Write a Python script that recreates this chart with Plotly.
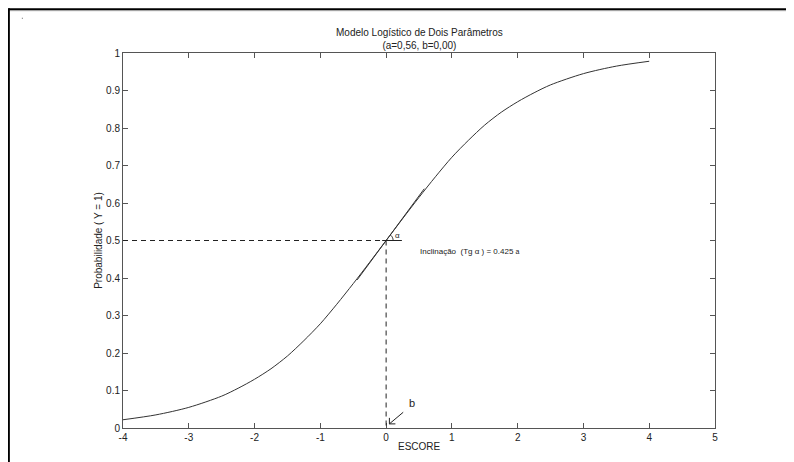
import numpy as np
import plotly.graph_objects as go

# Data
escore = [-4, -3.5, -3, -2.5, -2.25, -2, -1.75, -1.5, -1.25, -1, -0.75, -0.5, -0.25, 0,
          0.25, 0.5, 0.75, 1, 1.25, 1.5, 1.75, 2, 2.25, 2.5, 3, 3.5, 4]
prob = [0.022, 0.035, 0.055, 0.085, 0.106, 0.13, 0.158, 0.192, 0.233, 0.278, 0.33, 0.385, 0.442, 0.5,
        0.558, 0.615, 0.67, 0.722, 0.767, 0.808, 0.842, 0.87, 0.894, 0.915, 0.945, 0.965, 0.978]
tangent_x = [-0.44, 0.58]
tangent_y = [0.395, 0.638]
x_ticks = [-4, -3, -2, -1, 0, 1, 2, 3, 4, 5]
y_ticks = [0, 0.1, 0.2, 0.3, 0.4, 0.5, 0.6, 0.7, 0.8, 0.9, 1]
y_tick_labels = ["0", "0.1", "0.2", "0.3", "0.4", "0.5", "0.6", "0.7", "0.8", "0.9", "1"]

FONT = "Liberation Sans, Arial, sans-serif"
INK = "#222222"
AX = "#555555"

# the page body has an 8px margin: work in screen pixels, convert to figure pixels
OFF = 8
W, H = 794 - OFF, 462 - OFF
# plot area in screen pixels
SX0, SX1, SY0, SY1 = 122.7, 715.0, 52.7, 427.7
L = SX0 - OFF
R = W - (SX1 - OFF)
T = SY0 - OFF
B = H - (SY1 - OFF)
pw, ph = W - L - R, H - T - B
xmin, xmax, ymin, ymax = -4, 5, 0, 1
sx = pw / (xmax - xmin)
sy = ph / (ymax - ymin)


def px(sxp):  # screen x -> paper
    return (sxp - SX0) / pw


def py(syp):  # screen y -> paper
    return (SY1 - syp) / ph


fig = go.Figure()

fig.add_trace(go.Scatter(x=escore, y=prob, mode="lines",
                         line=dict(color="#333333", width=1, shape="spline", smoothing=0.8),
                         hoverinfo="skip"))
fig.add_trace(go.Scatter(x=tangent_x, y=tangent_y, mode="lines",
                         line=dict(color="#333333", width=1), hoverinfo="skip"))

shapes = []
dash = "5px,4px"
shapes.append(dict(type="line", xref="x", yref="y", x0=-4, x1=0, y0=0.5, y1=0.5,
                   line=dict(color=INK, width=1, dash=dash)))
shapes.append(dict(type="line", xref="x", yref="y", x0=0, x1=0, y0=0.5, y1=0,
                   line=dict(color=INK, width=1, dash=dash)))
shapes.append(dict(type="line", xref="x", yref="y", x0=-0.06, x1=0.24, y0=0.5, y1=0.5,
                   line=dict(color=INK, width=1)))
# angle arc (radius ~7 px)
r = 7.0
ang = np.deg2rad(np.linspace(0, 53, 10))
ax_pts = 0 + r * np.cos(ang) / sx
ay_pts = 0.5 + r * np.sin(ang) / sy
path = "M " + " L ".join(f"{a:.4f},{b:.4f}" for a, b in zip(ax_pts, ay_pts))
shapes.append(dict(type="path", xref="x", yref="y", path=path,
                   line=dict(color=INK, width=1)))
# arrow to b
tip = (0.05, 0.011)
tail = (0.26, 0.042)
shapes.append(dict(type="line", xref="x", yref="y", x0=tail[0], y0=tail[1], x1=tip[0], y1=tip[1],
                   line=dict(color=INK, width=1)))
shapes.append(dict(type="line", xref="x", yref="y", x0=tip[0], y0=tip[1], x1=tip[0] + 6 / sx, y1=tip[1],
                   line=dict(color=INK, width=1)))
shapes.append(dict(type="line", xref="x", yref="y", x0=tip[0], y0=tip[1], x1=tip[0], y1=tip[1] + 6 / sy,
                   line=dict(color=INK, width=1)))

# outer page frame (top and left)
shapes.append(dict(type="line", xref="paper", yref="paper",
                   x0=px(OFF), x1=px(900), y0=py(10.5), y1=py(10.5),
                   line=dict(color="#cccccc", width=1)))
shapes.append(dict(type="line", xref="paper", yref="paper",
                   x0=px(OFF), x1=px(900), y0=py(9), y1=py(9),
                   line=dict(color="#000000", width=2)))
shapes.append(dict(type="line", xref="paper", yref="paper",
                   x0=px(OFF + 0.5), x1=px(OFF + 0.5), y0=py(OFF), y1=py(480),
                   line=dict(color="#000000", width=2)))
shapes.append(dict(type="rect", xref="paper", yref="paper",
                   x0=px(21.5), x1=px(22.5), y0=py(18.5), y1=py(17.5),
                   line=dict(width=0), fillcolor="#666666"))

annotations = [
    dict(xref="paper", yref="paper", x=0.5, y=py(38.5), xanchor="center", yanchor="middle",
         text="Modelo Logístico de Dois Parâmetros<br>(a=0,56, b=0,00)", showarrow=False,
         font=dict(family=FONT, size=10, color=INK)),
    dict(xref="paper", yref="paper", x=px(98), y=0.5, xanchor="center", yanchor="middle",
         text="Probabilidade ( Y = 1)", textangle=-90, showarrow=False,
         font=dict(family=FONT, size=10, color=INK)),
    dict(xref="paper", yref="paper", x=0.5, y=py(446), xanchor="center", yanchor="middle",
         text="ESCORE", showarrow=False, font=dict(family=FONT, size=10, color=INK)),
    dict(xref="x", yref="y", x=0.48, y=0.47, xanchor="left", yanchor="middle",
         text="Inclinação  (Tg α ) = 0.425 <span style='font-size:7px'>a</span>", showarrow=False,
         font=dict(family=FONT, size=8, color=INK)),
    dict(xref="x", yref="y", x=0.17, y=0.513, xanchor="center", yanchor="middle",
         text="α", showarrow=False, font=dict(family=FONT, size=8, color=INK)),
    dict(xref="paper", yref="paper", x=px(411.7), y=py(402.7), xanchor="center", yanchor="middle",
         text="b", showarrow=False, font=dict(family=FONT, size=11, color=INK)),
]

axis_common = dict(showgrid=False, zeroline=False, showline=True, linecolor=AX, linewidth=1,
                   mirror="ticks", ticks="inside", ticklen=5, tickcolor=AX, tickwidth=1,
                   tickfont=dict(family=FONT, size=10, color=INK))

fig.update_layout(
    width=W, height=H, autosize=False,
    margin=dict(l=L, r=R, t=T, b=B, pad=0),
    paper_bgcolor="white", plot_bgcolor="white",
    showlegend=False,
    xaxis=dict(range=[xmin, xmax], tickmode="array", tickvals=x_ticks,
               ticktext=[str(v) for v in x_ticks], **axis_common),
    yaxis=dict(range=[ymin, ymax], tickmode="array", tickvals=y_ticks,
               ticktext=y_tick_labels, **axis_common),
    shapes=shapes,
    annotations=annotations,
)

fig.write_html("out.html")
